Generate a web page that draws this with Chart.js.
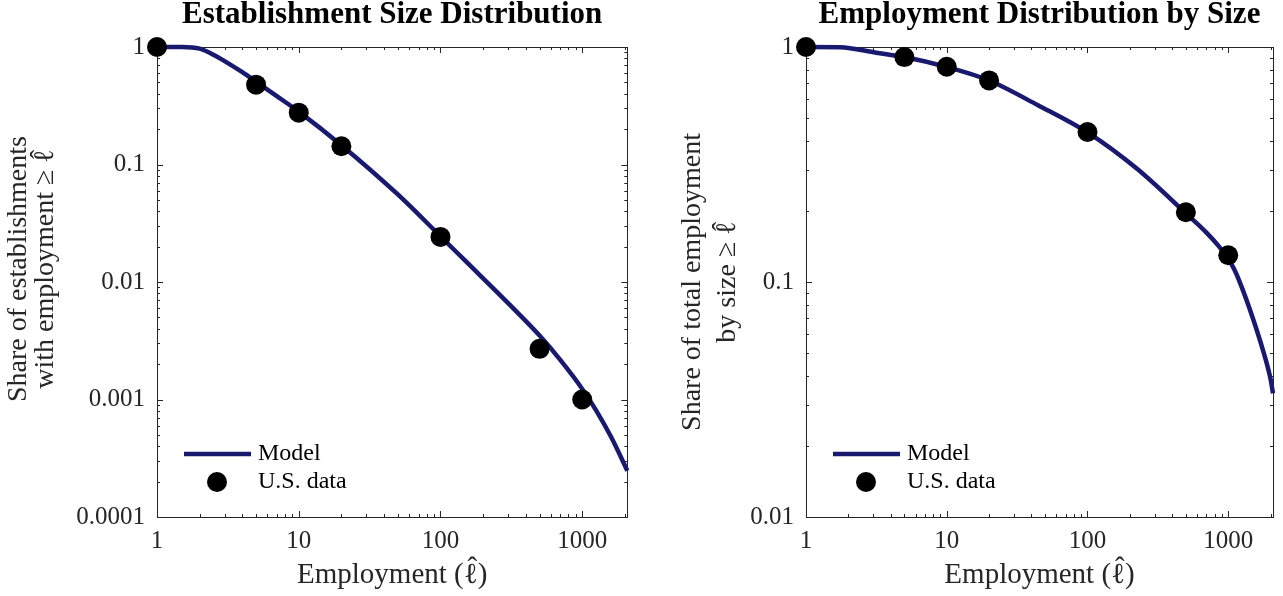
<!DOCTYPE html>
<html>
<head>
<meta charset="utf-8">
<script src="https://cdn.jsdelivr.net/npm/chart.js@4.4.1/dist/chart.umd.min.js"></script>
<style>
	html, body { margin: 0; padding: 0; background: #fff; }
	#wrap { position: relative; width: 1283px; height: 596px; }
	.panel { position: absolute; top: 0; height: 596px; }
	#left { left: 0; width: 640px; }
	#right { left: 640px; width: 643px; }
</style>
</head>
<body>
<div id="wrap">
	<div class="panel" id="left"><canvas id="estabChart"></canvas></div>
	<div class="panel" id="right"><canvas id="emplChart"></canvas></div>
</div>
<script>
// Establishment size thresholds (employment) with U.S. data.
var sizeThresholds = [1, 5, 10, 20, 100, 500, 1000];
var estabShareData = [1, 0.478, 0.276, 0.143, 0.0242, 0.0027, 0.001];
var emplShareData = [1, 0.906, 0.824, 0.721, 0.435, 0.198, 0.13];

// Model curves.
var estabModelX = [1, 1.5, 2, 2.5, 3, 4, 5, 7, 10, 20, 50, 100, 150, 300, 500, 700, 1000, 1250, 1600, 2080];
var estabModelY = [1, 1, 0.968, 0.861, 0.759, 0.61, 0.506, 0.382, 0.282, 0.146, 0.0556, 0.0245, 0.0151, 0.0066, 0.0035, 0.00217, 0.00123, 0.000813, 0.000479, 0.000248];
var emplModelX = [1, 1.74, 3.15, 5, 10, 20, 44.5, 100, 225, 500, 700, 850, 1000, 1100, 1200, 1500, 1850, 2000, 2080];
var emplModelY = [1, 0.998, 0.946, 0.906, 0.822, 0.72, 0.565, 0.433, 0.303, 0.196, 0.1623, 0.1429, 0.1255, 0.1135, 0.1009, 0.0698, 0.0465, 0.0385, 0.0336];

// Tick labels shown on the log axes.
var xTickLabels = ["1", "10", "100", "1000"];
var estabTickLabels = ["0.0001", "0.001", "0.01", "0.1", "1"];
var emplTickLabels = ["0.01", "0.1", "1"];

var serif = "'Liberation Serif', 'DejaVu Serif', serif";
var axisColor = "#262626";
var navy = "#191970";
var HAT_ELL = "\u2113\u0302";

function toPoints(xs, ys) {
	var out = [];
	for (var i = 0; i < xs.length; i++) {
		out.push({ x: xs[i], y: ys[i] });
	}
	return out;
}

// 2 = power of ten, 1 = other integer mantissa, 0 = not a decade tick
function tickKind(v) {
	var e = Math.floor(Math.log10(v) + 1e-9);
	var m = v / Math.pow(10, e);
	var r = Math.round(m);
	if (Math.abs(m - r) > 1e-6) return 0;
	return r === 1 ? 2 : 1;
}

function labelFrom(list) {
	return function (value) {
		if (tickKind(value) !== 2) return "";
		var s = String(Number(value.toPrecision(1)));
		return list.indexOf(s) >= 0 ? s : "";
	};
}

// Writes text centred on x; the hatted ell gets its hat placed by hand,
// the fonts here do not put the combining mark over the ell.
function drawHatText(ctx, text, x, y, size, lift) {
	var parts = text.split(HAT_ELL);
	var ell = "\u2113";
	var ellW = ctx.measureText(ell).width;
	var total = 0;
	parts.forEach(function (p, i) {
		total += ctx.measureText(p).width;
		if (i < parts.length - 1) total += ellW;
	});
	var cx = x - total / 2;
	ctx.textAlign = "left";
	parts.forEach(function (p, i) {
		ctx.fillText(p, cx, y);
		cx += ctx.measureText(p).width;
		if (i < parts.length - 1) {
			ctx.fillText(ell, cx, y);
			ctx.textAlign = "center";
			ctx.fillText("\u02C6", cx + ellW / 2 + size * 0.06, y - size * lift);
			ctx.textAlign = "left";
			cx += ellW;
		}
	});
}

// Axis titles (x below, two rotated lines at the left).
var hatTitles = {
	id: "hatTitles",
	afterDraw: function (chart, args, opts) {
		var ctx = chart.ctx;
		var a = chart.chartArea;
		ctx.save();
		ctx.fillStyle = axisColor;
		ctx.textBaseline = "alphabetic";
		ctx.font = opts.xSize + "px " + serif;
		drawHatText(ctx, opts.xTitle, (a.left + a.right) / 2, a.bottom + opts.xBaseline, opts.xSize, 0.22);
		ctx.font = opts.ySize + "px " + serif;
		var cy = (a.top + a.bottom) / 2 + opts.yShift;
		opts.yTitle.forEach(function (line, i) {
			ctx.save();
			ctx.translate(a.left - opts.yBaselines[i], cy);
			ctx.rotate(-Math.PI / 2);
			drawHatText(ctx, line, 0, 0, opts.ySize, 0.15);
			ctx.restore();
		});
		ctx.restore();
	},
};

// Box round the plot with inside ticks on all four sides (matlab style).
var frameTicks = {
	id: "frameTicks",
	beforeDatasetsDraw: function (chart) {
		var ctx = chart.ctx;
		var a = chart.chartArea;
		var x = chart.scales.x;
		var y = chart.scales.y;
		ctx.save();
		ctx.strokeStyle = axisColor;
		ctx.lineWidth = 1;
		ctx.strokeRect(Math.round(a.left) + 0.5, Math.round(a.top) + 0.5, Math.round(a.right - a.left), Math.round(a.bottom - a.top));
		ctx.beginPath();
		x.ticks.forEach(function (t) {
			var k = tickKind(t.value);
			if (!k) return;
			var len = k === 2 ? 6 : 3;
			var px = Math.round(x.getPixelForValue(t.value)) + 0.5;
			ctx.moveTo(px, a.bottom);
			ctx.lineTo(px, a.bottom - len);
			ctx.moveTo(px, a.top);
			ctx.lineTo(px, a.top + len);
		});
		y.ticks.forEach(function (t) {
			var k = tickKind(t.value);
			if (!k) return;
			var len = k === 2 ? 6 : 3;
			var py = Math.round(y.getPixelForValue(t.value)) + 0.5;
			ctx.moveTo(a.left, py);
			ctx.lineTo(a.left + len, py);
			ctx.moveTo(a.right, py);
			ctx.lineTo(a.right - len, py);
		});
		ctx.stroke();
		ctx.restore();
	},
};

// Legend drawn inside the lower left corner of the plot.
var insetLegend = {
	id: "insetLegend",
	afterDatasetsDraw: function (chart) {
		var ctx = chart.ctx;
		var a = chart.chartArea;
		var model = chart.data.datasets[0];
		var dots = chart.data.datasets[1];
		ctx.save();
		ctx.strokeStyle = model.borderColor;
		ctx.lineWidth = model.borderWidth;
		ctx.beginPath();
		ctx.moveTo(a.left + 27, a.bottom - 63);
		ctx.lineTo(a.left + 94, a.bottom - 63);
		ctx.stroke();
		ctx.fillStyle = dots.backgroundColor;
		ctx.beginPath();
		ctx.arc(a.left + 60, a.bottom - 35, dots.pointRadius, 0, 2 * Math.PI);
		ctx.fill();
		ctx.fillStyle = "#000";
		ctx.font = "24px " + serif;
		ctx.textBaseline = "middle";
		ctx.textAlign = "left";
		ctx.fillText(model.label, a.left + 101, a.bottom - 63);
		ctx.fillText(dots.label, a.left + 101, a.bottom - 35);
		ctx.restore();
	},
};

function makeChart(id, opts) {
	var config = {
		type: "scatter",
		data: {
			datasets: [
				{
					type: "line",
					label: "Model",
					data: toPoints(opts.modelX, opts.modelY),
					borderColor: navy,
					backgroundColor: navy,
					borderWidth: 4.5,
					pointRadius: 0,
					cubicInterpolationMode: "monotone",
					fill: false,
					clip: false,
					order: 2,
				},
				{
					type: "scatter",
					label: "U.S. data",
					data: toPoints(sizeThresholds, opts.dataY),
					backgroundColor: "#000",
					borderColor: "#000",
					borderWidth: 0,
					pointRadius: 10,
					clip: false,
					order: 1,
				},
			],
		},
		plugins: [frameTicks, insetLegend, hatTitles],
		options: {
			responsive: true,
			maintainAspectRatio: false,
			animation: false,
			events: [],
			layout: {
				padding: { left: 0, right: opts.padRight, top: 0, bottom: 0 },
			},
			plugins: {
				legend: { display: false },
				tooltip: { enabled: false },
				title: {
					display: true,
					text: opts.title,
					fullSize: false,
					color: "#000",
					font: { family: serif, size: 31, weight: "bold", lineHeight: 1 },
					padding: { top: -1, bottom: 17 },
				},
				hatTitles: {
					xSize: 29,
					ySize: 28,
					xTitle: "Employment (" + HAT_ELL + ")",
					xBaseline: 66,
					yTitle: opts.yTitle,
					yBaselines: opts.yBaselines,
					yShift: opts.yShift,
				},
			},
			scales: {
				x: {
					type: "logarithmic",
					min: 1,
					max: 2080,
					grid: { display: false, drawTicks: false },
					border: { display: false },
					ticks: {
						autoSkip: false,
						maxRotation: 0,
						padding: 9,
						color: axisColor,
						font: { family: serif, size: 25 },
						callback: labelFrom(xTickLabels),
					},
					afterFit: function (scale) {
						scale.height = 79;
					},
				},
				y: {
					type: "logarithmic",
					min: opts.yMin,
					max: 1,
					grid: { display: false, drawTicks: false },
					border: { display: false },
					ticks: {
						autoSkip: false,
						padding: 12,
						color: axisColor,
						font: { family: serif, size: 25 },
						callback: labelFrom(opts.yTickLabels),
					},
					afterFit: function (scale) {
						scale.width = opts.yWidth;
					},
				},
			},
		},
	};
	return new Chart(document.getElementById(id), config);
}

window.estabChart = makeChart("estabChart", {
	title: "Establishment Size Distribution",
	modelX: estabModelX,
	modelY: estabModelY,
	dataY: estabShareData,
	yMin: 0.0001,
	yTickLabels: estabTickLabels,
	yTitle: ["Share of establishments", "with employment \u2265 " + HAT_ELL],
	yBaselines: [131, 104],
	yShift: -13,
	yWidth: 157,
	padRight: 12.7,
});

window.emplChart = makeChart("emplChart", {
	title: "Employment Distribution by Size",
	modelX: emplModelX,
	modelY: emplModelY,
	dataY: emplShareData,
	yMin: 0.01,
	yTickLabels: emplTickLabels,
	yTitle: ["Share of total employment", "by size \u2265 " + HAT_ELL],
	yBaselines: [106, 71],
	yShift: 0,
	yWidth: 166,
	padRight: 5.5,
});
</script>
</body>
</html>
